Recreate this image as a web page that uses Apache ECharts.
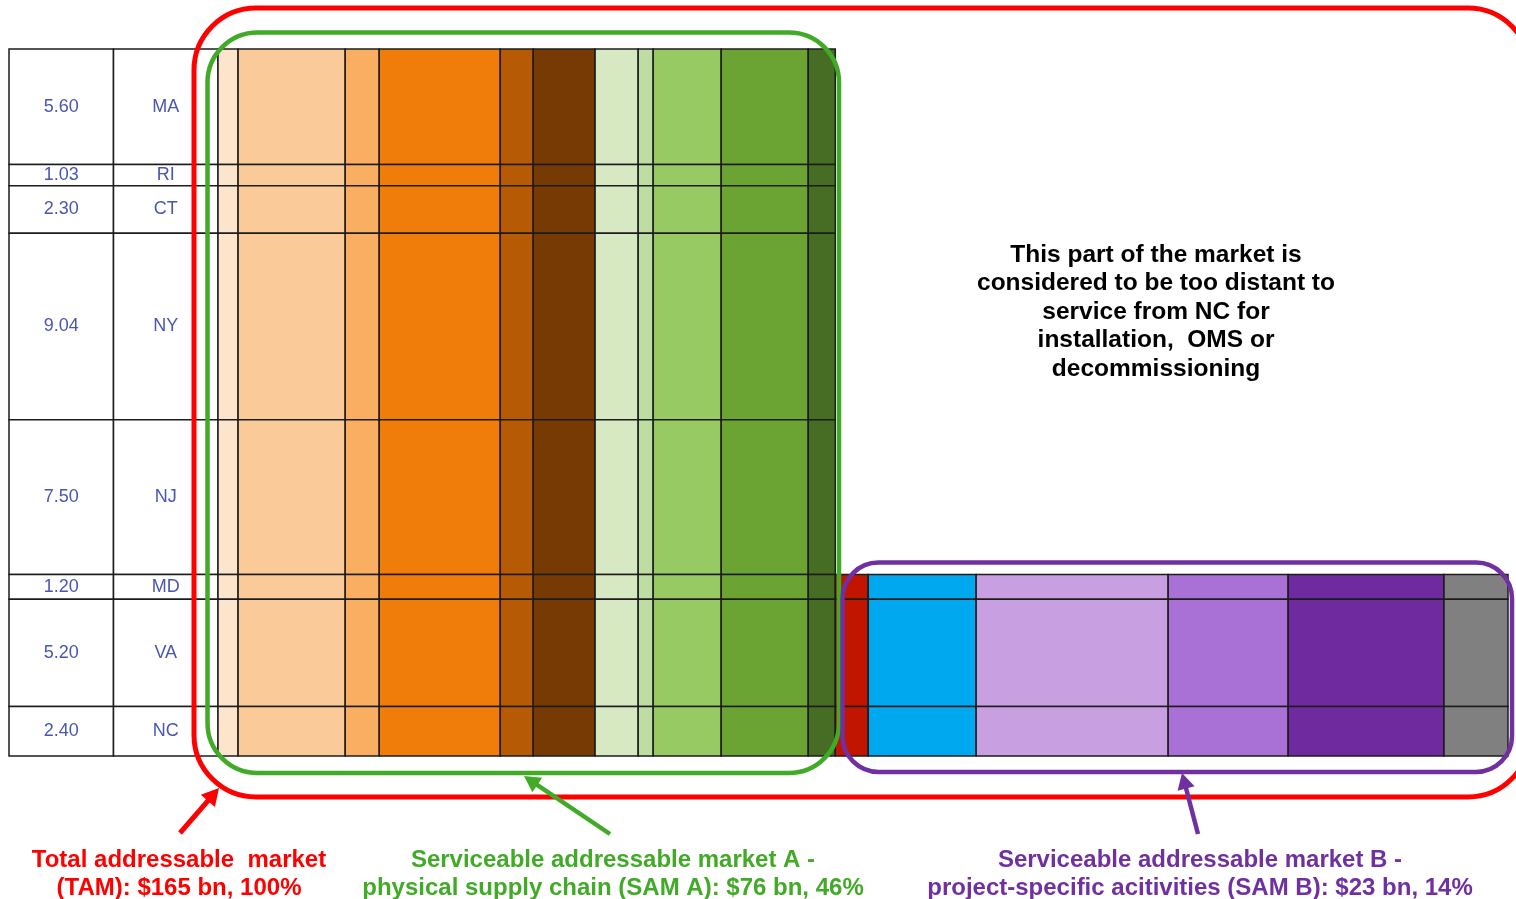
<!DOCTYPE html>
<html>
<head>
<meta charset="utf-8">
<script src="https://cdn.jsdelivr.net/npm/echarts/dist/echarts.min.js"></script>
<style>
  html, body { margin: 0; padding: 0; background: #ffffff; }
  #chart { width: 1516px; height: 899px; }
</style>
</head>
<body>
<div id="chart"></div>
<script>
// Installed offshore wind capacity by state (GW), north to south
const states = ['MA', 'RI', 'CT', 'NY', 'NJ', 'MD', 'VA', 'NC'];
const capacityGW = [5.60, 1.03, 2.30, 9.04, 7.50, 1.20, 5.20, 2.40];

// States close enough to NC for installation, OMS and decommissioning work
const servedStates = ['MD', 'VA', 'NC'];

// Spend per unit of capacity ($m per MW) for each cost category
const supplyCostPerMW = [0.075, 0.400, 0.127, 0.452, 0.123, 0.231, 0.161, 0.056, 0.254, 0.325, 0.101];
const projectCostPerMW = [0.123, 0.403, 0.717, 0.448, 0.582, 0.239];

const supplyColors = ['#FDE5CD', '#FBCA99', '#F9AE62', '#F07D0A', '#B65A06', '#783A04',
                      '#D7E9C3', '#BEDDA2', '#98CA64', '#6CA433', '#476C24'];
const projectColors = ['#C21500', '#00A9EF', '#C8A0E2', '#A970D5', '#6E2A9E', '#808080'];

// Annotation captions
const tamCaption = ['Total addressable  market', '(TAM): $165 bn, 100%'];
const samACaption = ['Serviceable addressable market A -', 'physical supply chain (SAM A): $76 bn, 46%'];
const samBCaption = ['Serviceable addressable market B -', 'project-specific acitivities (SAM B): $23 bn, 14%'];
const distantNote = ['This part of the market is', 'considered to be too distant to', 'service from NC for', 'installation,  OMS or', 'decommissioning'];

// ---- derived layout of the mosaic ----
function starts(arr) {
  const out = [];
  let acc = 0;
  arr.forEach(v => { out.push(acc); acc += v; });
  return out;
}
const totalCapacity = capacityGW.reduce((a, b) => a + b, 0);
const rowStart = starts(capacityGW);

const allCost = supplyCostPerMW.concat(projectCostPerMW);
const allColors = supplyColors.concat(projectColors);
const colStart = starts(allCost);
const totalCost = allCost.reduce((a, b) => a + b, 0);

// mosaic cells: [x0, x1, y0, y1, colorIndex]
const cells = [];
allCost.forEach((w, j) => {
  const isProject = j >= supplyCostPerMW.length;
  states.forEach((s, i) => {
    if (isProject && servedStates.indexOf(s) < 0) return;
    cells.push([colStart[j], colStart[j] + w, rowStart[i], rowStart[i] + capacityGW[i], j]);
  });
});

// table cells: capacity column and state column
const tableCells = [];
const tableText = [];
states.forEach((s, i) => {
  tableCells.push([0, 1, rowStart[i], rowStart[i] + capacityGW[i]]);
  tableText.push(capacityGW[i].toFixed(2));
  tableCells.push([1, 2, rowStart[i], rowStart[i] + capacityGW[i]]);
  tableText.push(s);
});

const FONT = '"Liberation Sans", Arial, Helvetica, sans-serif';
const LINE = '#1c1c1c';

const chart = echarts.init(document.getElementById('chart'), null, { renderer: 'canvas' });

function captionGraphic(lines, cx, cy, color, size, lh) {
  return {
    type: 'text',
    z: 100,
    style: {
      text: lines.join('\n'),
      x: cx,
      y: cy,
      align: 'center',
      verticalAlign: 'top',
      fill: color,
      fontFamily: FONT,
      fontWeight: 'bold',
      fontSize: size,
      lineHeight: lh
    }
  };
}

function arrowGraphic(tail, tip, color, width, head) {
  const dx = tip[0] - tail[0], dy = tip[1] - tail[1];
  const len = Math.sqrt(dx * dx + dy * dy);
  const ux = dx / len, uy = dy / len;
  const bx = tip[0] - ux * head, by = tip[1] - uy * head;
  const px = -uy * head * 0.55, py = ux * head * 0.55;
  return [
    {
      type: 'line', z: 100,
      shape: { x1: tail[0], y1: tail[1], x2: bx + ux * 2, y2: by + uy * 2 },
      style: { stroke: color, lineWidth: width }
    },
    {
      type: 'polygon', z: 100,
      shape: { points: [[tip[0], tip[1]], [bx + px, by + py], [bx - px, by - py]] },
      style: { fill: color }
    }
  ];
}

const RED = '#FF0000', GREEN = '#41AA26', PURPLE = '#7030A0';

const graphics = [
  { type: 'rect', z: 90, shape: { x: 194, y: 8, width: 1336, height: 789, r: 62 },
    style: { fill: 'none', stroke: RED, lineWidth: 5 } },
  { type: 'rect', z: 91, shape: { x: 207.5, y: 32.5, width: 631.5, height: 740.5, r: 50 },
    style: { fill: 'none', stroke: GREEN, lineWidth: 4.5 } },
  { type: 'rect', z: 91, shape: { x: 842.5, y: 562.5, width: 669.5, height: 209.5, r: 36 },
    style: { fill: 'none', stroke: PURPLE, lineWidth: 4.5 } }
]
  .concat(arrowGraphic([180, 833], [219, 788], RED, 5, 17))
  .concat(arrowGraphic([610, 834], [524, 776], GREEN, 4.5, 16))
  .concat(arrowGraphic([1198, 834], [1182, 773], PURPLE, 4.5, 16))
  .concat([
    captionGraphic(tamCaption, 179, 846, RED, 24, 28),
    captionGraphic(samACaption, 613, 846, GREEN, 24, 28),
    captionGraphic(samBCaption, 1200, 846, PURPLE, 24, 28),
    captionGraphic(distantNote, 1156, 241, '#000000', 24.5, 28.4)
  ]);

const option = {
  animation: false,
  backgroundColor: '#ffffff',
  grid: [
    { left: 9, top: 49, width: 209, bottom: 143 },
    { left: 218, top: 49, right: 8, bottom: 143 }
  ],
  xAxis: [
    { type: 'value', gridIndex: 0, min: 0, max: 2, show: false },
    { type: 'value', gridIndex: 1, min: 0, max: totalCost, show: false }
  ],
  yAxis: [
    { type: 'value', gridIndex: 0, min: 0, max: totalCapacity, inverse: true, show: false },
    { type: 'value', gridIndex: 1, min: 0, max: totalCapacity, inverse: true, show: false }
  ],
  series: [
    {
      name: 'Capacity table',
      type: 'custom',
      xAxisIndex: 0,
      yAxisIndex: 0,
      encode: { x: [0, 1], y: [2, 3] },
      data: tableCells,
      renderItem: function (params, api) {
        const p0 = api.coord([api.value(0), api.value(2)]);
        const p1 = api.coord([api.value(1), api.value(3)]);
        return {
          type: 'rect',
          shape: { x: p0[0], y: p0[1], width: p1[0] - p0[0], height: p1[1] - p0[1] },
          style: { fill: '#ffffff', stroke: LINE, lineWidth: 1.5 },
          textContent: {
            style: {
              text: tableText[params.dataIndex],
              fill: '#4A56B0',
              fontFamily: FONT,
              fontSize: 18
            }
          },
          textConfig: { position: 'inside' }
        };
      }
    },
    {
      name: 'Market by cost category',
      type: 'custom',
      xAxisIndex: 1,
      yAxisIndex: 1,
      encode: { x: [0, 1], y: [2, 3] },
      data: cells,
      renderItem: function (params, api) {
        const p0 = api.coord([api.value(0), api.value(2)]);
        const p1 = api.coord([api.value(1), api.value(3)]);
        return {
          type: 'rect',
          shape: { x: p0[0], y: p0[1], width: p1[0] - p0[0], height: p1[1] - p0[1] },
          style: { fill: allColors[api.value(4)], stroke: LINE, lineWidth: 1.5 }
        };
      }
    }
  ],
  graphic: graphics
};

chart.setOption(option);
</script>
</body>
</html>
